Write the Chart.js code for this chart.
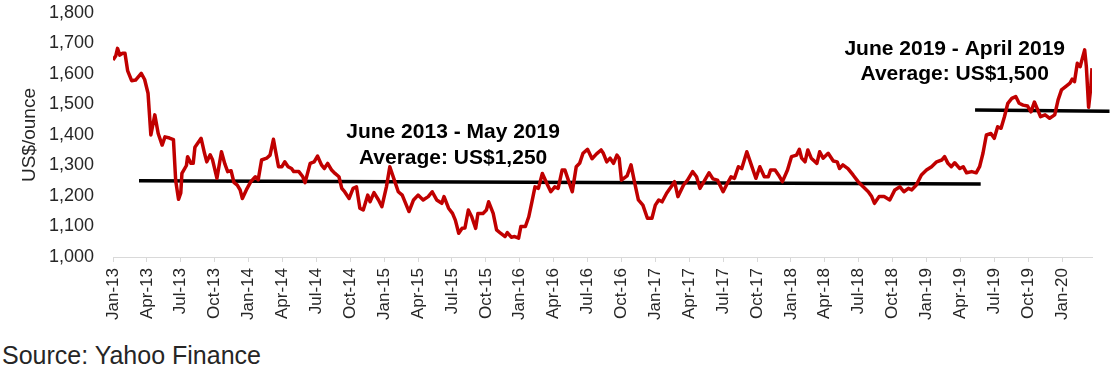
<!DOCTYPE html>
<html>
<head>
<meta charset="utf-8">
<script src="https://cdn.jsdelivr.net/npm/chart.js@4.4.0/dist/chart.umd.min.js"></script>
<style>
    body { margin: 0; background: #fff; width: 1113px; height: 375px; overflow: hidden; position: relative;
           font-family: Arial, "Liberation Sans", sans-serif; }
    #wrap { position: absolute; left: 0; top: 0; width: 1113px; height: 340px; }
    #source { position: absolute; left: 2px; top: 343px; font-size: 25px; line-height: 25px; color: #262626; }
</style>
</head>
<body>
<div id="wrap"><canvas id="goldChart"></canvas></div>
<div id="source">Source: Yahoo Finance</div>
<script>
// Gold price (x = months since 1 Jan 2013)
const monthOffset = [
    0.0, 0.25, 0.4, 0.6, 0.85, 1.06, 1.3, 1.65, 2.0, 2.5, 2.8, 3.1, 3.35, 3.7, 4.0, 4.35, 4.6, 5.0, 5.35, 5.55,
    5.8, 6.0, 6.1, 6.5, 6.6, 6.9, 7.1, 7.25, 7.8, 8.1, 8.3, 8.6, 8.8, 9.2, 9.6, 9.9, 10.15, 10.45, 10.7, 11.0,
    11.25, 11.45, 11.8, 12.2, 12.6, 12.85, 13.15, 13.6, 13.9, 14.2, 14.4, 14.65, 14.95, 15.2, 15.5, 15.8, 16.0, 16.45, 16.8, 17.0,
    17.45, 17.8, 18.1, 18.45, 18.7, 19.0, 19.35, 19.65, 20.0, 20.25, 20.5, 20.9, 21.25, 21.55, 21.85, 22.15, 22.55, 22.75, 23.1, 23.5,
    23.8, 24.2, 24.5, 24.9, 25.25, 25.6, 25.9, 26.2, 26.6, 27.0, 27.45, 27.9, 28.25, 28.65, 29.1, 29.3, 29.7, 30.05, 30.3, 30.6,
    30.9, 31.15, 31.45, 31.75, 32.1, 32.3, 32.75, 33.05, 33.25, 33.65, 33.95, 34.3, 34.7, 34.9, 35.25, 35.55, 35.9, 36.1, 36.5, 36.8,
    37.05, 37.35, 37.65, 38.0, 38.4, 38.75, 39.1, 39.4, 39.75, 40.0, 40.3, 40.65, 41.0, 41.3, 41.6, 42.0, 42.4, 42.8, 43.2, 43.4,
    43.7, 44.0, 44.3, 44.6, 44.8, 45.0, 45.5, 45.85, 46.15, 46.5, 46.9, 47.3, 47.7, 48.0, 48.3, 48.6, 49.0, 49.4, 49.7, 50.0,
    50.5, 50.85, 51.3, 51.65, 51.95, 52.3, 52.75, 53.1, 53.5, 54.0, 54.3, 54.7, 55.0, 55.35, 55.65, 56.1, 56.45, 56.9, 57.25, 57.65,
    58.0, 58.2, 58.6, 58.9, 59.25, 59.7, 60.05, 60.5, 60.75, 60.95, 61.25, 61.5, 61.8, 62.3, 62.55, 62.85, 63.3, 63.75, 64.1, 64.3,
    64.6, 65.05, 65.5, 65.95, 66.4, 66.85, 67.15, 67.4, 67.8, 68.25, 68.75, 69.2, 69.65, 70.0, 70.4, 70.7, 71.1, 71.55, 72.0, 72.45,
    72.9, 73.35, 73.6, 73.9, 74.2, 74.5, 74.95, 75.25, 75.55, 76.0, 76.4, 76.7, 77.0, 77.3, 77.7, 78.0, 78.3, 78.6, 78.9, 79.2,
    79.55, 79.9, 80.2, 80.55, 80.95, 81.25, 81.55, 81.85, 82.1, 82.5, 82.9, 83.35, 83.65, 83.95, 84.4, 84.7, 84.9, 85.1, 85.35, 85.6,
    85.8, 86.0, 86.15, 86.35, 86.55, 86.65
];
const goldPrice = [
    1646, 1660, 1684, 1662, 1668, 1668, 1610, 1578, 1580, 1602, 1582, 1537, 1400, 1466, 1405, 1367, 1394, 1390, 1385, 1250,
    1189, 1210, 1274, 1300, 1329, 1307, 1307, 1360, 1389, 1340, 1312, 1335, 1320, 1258, 1345, 1305, 1280, 1283, 1245, 1236,
    1220, 1192, 1220, 1247, 1263, 1253, 1318, 1324, 1334, 1386, 1345, 1296, 1296, 1312, 1296, 1290, 1280, 1280, 1263, 1244,
    1307, 1312, 1331, 1302, 1290, 1307, 1285, 1274, 1263, 1225, 1214, 1192, 1225, 1230, 1160, 1154, 1203, 1181, 1211, 1187,
    1165, 1230, 1296, 1252, 1214, 1203, 1176, 1149, 1187, 1203, 1187, 1198, 1214, 1187, 1176, 1198, 1160, 1143, 1121, 1078,
    1094, 1095, 1154, 1132, 1094, 1143, 1143, 1154, 1181, 1143, 1089, 1078, 1067, 1080, 1065, 1067, 1062, 1100, 1100, 1132,
    1176, 1230, 1225, 1274, 1241, 1214, 1230, 1225, 1285, 1285, 1252, 1214, 1296, 1307, 1340, 1353, 1322, 1338, 1351, 1340,
    1312, 1324, 1307, 1334, 1324, 1252, 1266, 1302, 1247, 1187, 1170, 1127, 1127, 1170, 1187, 1181, 1209, 1230, 1247, 1198,
    1236, 1252, 1280, 1263, 1225, 1247, 1276, 1256, 1252, 1214, 1236, 1263, 1258, 1296, 1290, 1345, 1307, 1258, 1296, 1263,
    1263, 1285, 1285, 1269, 1247, 1285, 1329, 1334, 1353, 1324, 1312, 1351, 1324, 1307, 1345, 1324, 1340, 1315, 1312, 1290,
    1302, 1290, 1269, 1247, 1230, 1214, 1198, 1176, 1198, 1198, 1187, 1220, 1230, 1214, 1225, 1220, 1236, 1269, 1285, 1296,
    1312, 1318, 1329, 1307, 1296, 1309, 1290, 1296, 1276, 1280, 1276, 1296, 1340, 1400, 1405, 1389, 1427, 1422, 1460, 1504,
    1520, 1526, 1504, 1498, 1495, 1476, 1508, 1482, 1460, 1466, 1455, 1466, 1515, 1548, 1561, 1570, 1583, 1575, 1635, 1624,
    1652, 1679, 1624, 1491, 1558, 1619
];

// Hand-drawn average lines: [start, end] in months and US$/ounce
const avgLowMonths = [2.3, 76.8];
const avgLowValues = [1250, 1239];
const avgHighMonths = [76.3, 88.2];
const avgHighValues = [1482, 1478];

// Quarterly tick labels
const tickLabels = [
    'Jan-13', 'Apr-13', 'Jul-13', 'Oct-13', 'Jan-14', 'Apr-14', 'Jul-14', 'Oct-14',
    'Jan-15', 'Apr-15', 'Jul-15', 'Oct-15', 'Jan-16', 'Apr-16', 'Jul-16', 'Oct-16',
    'Jan-17', 'Apr-17', 'Jul-17', 'Oct-17', 'Jan-18', 'Apr-18', 'Jul-18', 'Oct-18',
    'Jan-19', 'Apr-19', 'Jul-19', 'Oct-19', 'Jan-20'
];

// Annotation text, anchored in data units (centre month, baseline value per line)
const notes = [
    { lines: ['June 2013 - May 2019', 'Average: US$1,250'], month: 30.1, baselines: [1390, 1305] },
    { lines: ['June 2019 - April 2019', 'Average: US$1,500'], month: 74.5, baselines: [1662, 1580] }
];

const FONT = 'Arial, "Liberation Sans", sans-serif';
const TEXT = '#262626';

function toPoints(xs, ys) {
    return xs.map((x, i) => ({ x: x, y: ys[i] }));
}

// Draw the bold annotation text on top of the chart
const notesPlugin = {
    id: 'notes',
    afterDatasetsDraw(chart) {
        const ctx = chart.ctx;
        const xs = chart.scales.x, ys = chart.scales.y;
        ctx.save();
        ctx.fillStyle = '#000';
        ctx.font = 'bold 21px ' + FONT;
        ctx.textAlign = 'center';
        ctx.textBaseline = 'alphabetic';
        notes.forEach(n => {
            n.lines.forEach((t, i) => {
                ctx.fillText(t, xs.getPixelForValue(n.month), ys.getPixelForValue(n.baselines[i]));
            });
        });
        ctx.restore();
    }
};

new Chart(document.getElementById('goldChart'), {
    type: 'line',
    data: {
        datasets: [
            {
                label: 'Gold',
                data: toPoints(monthOffset, goldPrice),
                borderColor: '#c00000',
                borderWidth: 3.5,
                pointRadius: 0,
                tension: 0,
                borderJoinStyle: 'round'
            },
            {
                label: 'Average 2013-2019',
                data: toPoints(avgLowMonths, avgLowValues),
                borderColor: '#000',
                borderWidth: 3.5,
                pointRadius: 0
            },
            {
                label: 'Average 2019-2020',
                data: toPoints(avgHighMonths, avgHighValues),
                borderColor: '#000',
                borderWidth: 3.5,
                pointRadius: 0,
                clip: false
            }
        ]
    },
    options: {
        responsive: true,
        maintainAspectRatio: false,
        animation: false,
        events: [],
        layout: { padding: { top: 13, right: 21, left: 0, bottom: 0 } },
        plugins: {
            legend: { display: false },
            tooltip: { enabled: false }
        },
        scales: {
            x: {
                type: 'linear',
                min: 0,
                max: 86.65,
                afterBuildTicks: scale => {
                    scale.ticks = tickLabels.map((t, i) => ({ value: i * 3 }));
                },
                afterFit: scale => {
                    scale.height = 83;
                    scale.paddingLeft = 0;
                    scale.paddingRight = 0;
                },
                grid: { drawOnChartArea: false, drawTicks: true, tickLength: 5, color: '#d9d9d9', lineWidth: 1 },
                border: { color: '#d9d9d9', width: 1 },
                ticks: {
                    minRotation: 90,
                    maxRotation: 90,
                    autoSkip: false,
                    padding: 6,
                    color: TEXT,
                    font: { family: FONT, size: 17 },
                    callback: (value, index) => tickLabels[index]
                }
            },
            y: {
                min: 1000,
                max: 1800,
                afterFit: scale => {
                    scale.width = 113;
                    scale.paddingTop = 0;
                    scale.paddingBottom = 0;
                },
                grid: { display: false, drawTicks: false },
                border: { display: false },
                ticks: {
                    stepSize: 100,
                    padding: 19,
                    color: TEXT,
                    font: { family: FONT, size: 18 },
                    callback: value => value.toLocaleString('en-US')
                },
                title: {
                    display: true,
                    text: 'US$/ounce',
                    color: TEXT,
                    font: { family: FONT, size: 19 },
                    padding: { top: 18, bottom: 0 }
                }
            }
        }
    },
    plugins: [notesPlugin]
});
</script>
</body>
</html>
